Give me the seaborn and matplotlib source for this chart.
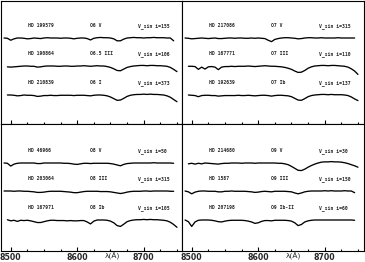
import numpy as np
import matplotlib
matplotlib.use("Agg")
import matplotlib.pyplot as plt
from matplotlib.ticker import MultipleLocator, FixedLocator
import seaborn as sns

sns.set_style("white")
plt.rcParams['font.family'] = ['DejaVu Sans']

nan = np.nan
wave = np.arange(8490, 8751, 5)

# ---- panel texts ----
names_tl = ["HD 199579", "HD 190864", "HD 210839"]
types_tl = ["O6 V", "O6.5 III", "O6 I"]
vsini_tl = ["V_sin i=155", "V_sin i=106", "V_sin i=373"]
names_tr = ["HD 217086", "HD 167771", "HD 192639"]
types_tr = ["O7 V", "O7 III", "O7 Ib"]
vsini_tr = ["V_sin i=315", "V_sin i=110", "V_sin i=137"]
names_bl = ["HD 46966", "HD 203064", "HD 167971"]
types_bl = ["O8 V", "O8 III", "O8 Ib"]
vsini_bl = ["V_sin i=50", "V_sin i=315", "V_sin i=105"]
names_br = ["HD 214680", "HD 1587", "HD 207198"]
types_br = ["O9 V", "O9 III", "O9 Ib-II"]
vsini_br = ["V_sin i=30", "V_sin i=150", "V_sin i=60"]

# ---- normalized fluxes ----
tl1 = [1.00,0.99,0.92,0.97,1.00,1.00,0.99,0.97,0.98,1.00,0.99,0.98,1.00,1.01,1.00,1.00,1.00,0.99,1.00,1.00,0.99,0.97,0.99,1.00,1.00,0.98,0.93,0.99,1.01,1.02,1.01,1.01,1.00,0.97,0.90,0.90,0.96,1.00,1.01,1.02,1.01,1.01,1.00,1.01,1.01,1.02,1.01,1.01,1.01,1.00,1.00,0.90,nan]
tl2 = [nan,0.97,0.96,0.97,0.98,0.99,1.00,1.00,0.99,0.99,0.96,0.97,0.99,1.00,1.00,1.00,0.99,0.99,1.00,1.00,0.99,0.99,1.00,1.00,1.01,1.00,0.99,1.00,1.01,1.00,1.00,0.98,0.95,0.90,0.84,0.83,0.89,0.95,0.98,1.00,1.01,1.02,1.02,1.01,1.02,1.02,1.01,1.01,1.00,0.99,0.95,0.88,0.80]
tl3 = [nan,1.00,1.00,0.99,0.97,0.98,1.00,0.99,0.99,0.98,0.95,0.96,0.98,0.98,0.99,0.98,0.98,0.99,0.99,0.99,0.99,0.98,0.99,0.99,0.99,0.98,0.97,0.99,1.00,1.00,0.99,0.97,0.93,0.87,0.81,0.82,0.88,0.95,0.99,1.01,1.02,1.02,1.03,1.02,1.03,1.02,1.02,1.01,1.00,0.97,0.92,0.84,0.76]
tr1 = [1.00,0.99,0.97,0.98,0.99,1.00,0.99,0.98,0.99,1.00,0.98,0.98,0.99,1.00,1.00,0.99,1.00,1.00,0.99,0.99,1.00,0.99,1.00,0.99,0.98,0.92,0.87,0.95,0.98,1.00,1.01,1.01,1.00,0.99,0.97,0.98,1.00,1.01,1.01,1.00,1.00,1.01,1.00,1.00,1.00,1.00,1.01,1.00,1.00,1.00,1.00,1.00,nan]
tr2 = [nan,0.99,0.99,0.98,0.88,0.96,0.89,0.97,0.98,0.96,0.87,0.96,0.98,0.98,0.99,0.98,0.99,0.99,0.99,1.00,0.99,0.98,0.99,1.00,1.01,1.00,0.99,0.99,0.98,0.97,0.95,0.92,0.88,0.82,0.77,0.78,0.84,0.92,0.97,1.00,1.01,1.02,1.02,1.01,1.02,1.02,1.01,1.00,0.99,0.96,0.90,0.82,0.70]
tr3 = [nan,1.00,0.99,0.98,0.94,0.98,0.99,0.99,0.98,0.98,0.96,0.97,0.98,0.98,0.98,0.98,0.99,0.98,0.98,0.99,0.98,0.97,0.98,0.99,0.99,0.98,0.96,0.98,0.99,0.99,0.98,0.97,0.94,0.88,0.82,0.81,0.87,0.94,0.98,1.00,1.01,1.02,1.02,1.01,1.02,1.01,1.01,1.01,1.00,0.98,0.93,0.86,0.80]
bl1 = [1.00,0.99,0.89,0.96,0.99,1.00,1.00,1.00,1.00,1.00,0.98,0.98,1.00,1.00,1.00,1.00,1.00,1.00,0.99,0.99,0.98,0.96,0.95,0.97,0.99,0.99,0.98,0.99,0.99,0.99,0.99,0.99,0.98,0.96,0.93,0.90,0.95,0.98,0.99,1.00,1.00,1.00,1.00,1.00,1.00,1.01,1.00,1.00,1.00,1.00,1.00,0.99,nan]
bl2 = [1.00,1.00,1.00,0.99,1.00,1.00,0.99,0.99,0.98,0.97,0.95,0.95,0.96,0.98,0.99,0.99,0.99,0.99,0.98,0.97,0.96,0.94,0.94,0.96,0.98,0.99,0.99,0.99,0.99,0.98,0.98,0.98,0.97,0.95,0.93,0.91,0.93,0.96,0.98,0.99,0.99,0.99,1.00,1.00,0.99,1.00,1.00,1.00,1.00,1.00,0.99,0.99,nan]
bl3 = [nan,1.01,0.97,0.99,0.95,0.99,0.98,0.99,0.97,0.94,0.91,0.91,0.94,0.97,0.99,0.99,0.98,0.98,0.98,0.97,0.98,0.97,0.97,0.98,0.98,0.93,0.86,0.96,1.00,1.00,1.00,0.99,0.96,0.90,0.80,0.77,0.85,0.94,0.98,1.00,1.01,1.01,1.02,1.01,1.02,1.01,1.01,1.00,0.99,0.97,0.92,0.84,0.74]
br1 = [nan,0.97,0.99,0.96,0.99,0.97,1.00,0.99,0.98,0.97,0.96,0.98,0.99,0.99,1.00,1.00,1.00,0.99,1.00,1.00,1.00,0.99,1.00,1.00,1.00,1.00,1.00,1.00,0.99,0.99,0.97,0.94,0.88,0.81,0.74,0.73,0.78,0.85,0.91,0.96,1.00,1.03,1.04,1.04,1.05,1.04,1.04,1.03,1.01,0.98,0.94,0.90,0.85]
br2 = [1.00,0.97,0.90,0.96,0.99,1.00,1.00,0.99,0.99,0.99,0.97,0.97,0.99,0.99,1.00,0.99,0.99,0.99,0.99,0.98,0.97,0.95,0.96,0.98,0.99,0.98,0.97,0.99,0.99,0.99,0.99,0.98,0.97,0.93,0.90,0.93,0.97,0.99,1.00,1.00,1.00,1.00,1.01,1.00,1.01,1.00,1.00,1.00,1.01,1.00,1.00,0.94,nan]
br3 = [1.00,0.94,0.77,0.93,0.99,1.00,1.00,1.00,0.99,0.97,0.94,0.93,0.96,0.98,0.99,0.99,0.99,0.99,0.98,0.96,0.93,0.88,0.90,0.95,0.98,0.98,0.97,0.99,0.99,0.99,0.99,0.98,0.96,0.90,0.80,0.84,0.93,0.97,0.99,1.00,1.00,1.00,1.00,1.00,1.00,1.00,1.00,1.00,1.00,1.00,1.00,0.99,nan]

panels = [
    (names_tl, types_tl, vsini_tl, [tl1, tl2, tl3]),
    (names_tr, types_tr, vsini_tr, [tr1, tr2, tr3]),
    (names_bl, types_bl, vsini_bl, [bl1, bl2, bl3]),
    (names_br, types_br, vsini_br, [br1, br2, br3]),
]

W, H = 365, 262
fig = plt.figure(figsize=(W / 100, H / 100), dpi=100)
S = 28.0  # px per flux unit

# axes boxes in pixels: (left, top, width, height)
boxes = [(1, 1, 181, 123), (182, 1, 182, 123), (1, 124, 181, 127), (182, 124, 182, 127)]
offs_px = [[37, 65, 94], [37, 65, 94], [39, 67, 96], [39, 67, 96]]

for k, (box, (nm, tp, vs, specs)) in enumerate(zip(boxes, panels)):
    l, t, w, h = box
    ax = fig.add_axes([l / W, 1 - (t + h) / H, w / W, h / H])
    ymax = h / S
    for j, sp in enumerate(specs):
        off = (h - offs_px[k][j]) / S
        y = np.array(sp) - 1 + off
        sns.lineplot(x=wave, y=y, ax=ax, color="black", lw=0.95)
        ty = off + 0.44
        kw = dict(transform=ax.get_yaxis_transform(), fontsize=3.4,
                  family="DejaVu Sans Mono", weight="bold", va="center")
        ax.text(0.148, ty, nm[j], **kw)
        ax.text(0.49, ty, tp[j], **kw)
        ax.text(0.755, ty, vs[j], **kw)
    ax.set_xlim(8485.4, 8485.4 + w / 0.665)
    ax.set_ylim(0, ymax)
    ax.set_yticks([])
    ax.set_xlabel("")
    ax.set_ylabel("")
    ax.xaxis.set_major_locator(FixedLocator([8500, 8600, 8700]))
    ax.xaxis.set_minor_locator(MultipleLocator(25))
    bottom_row = k >= 2
    ax.tick_params(axis="x", which="major", direction="in", length=3, width=0.8,
                   top=False, bottom=True, labelbottom=bottom_row, labelsize=5.6, pad=1.3,
                   color="black")
    ax.tick_params(axis="x", which="minor", direction="in", length=1.5, width=0.8,
                   top=False, bottom=True, color="black")
    for lab in ax.get_xticklabels():
        lab.set_fontweight("bold")
    for sp_ in ax.spines.values():
        sp_.set_color("black")
        sp_.set_linewidth(0.8)
    if bottom_row:
        ax.text(0.615 if k == 2 else 0.611, -0.04, "λ(Å)", transform=ax.transAxes,
                fontsize=5.4, ha="center", va="center")

fig.savefig("out.png", dpi=100)
